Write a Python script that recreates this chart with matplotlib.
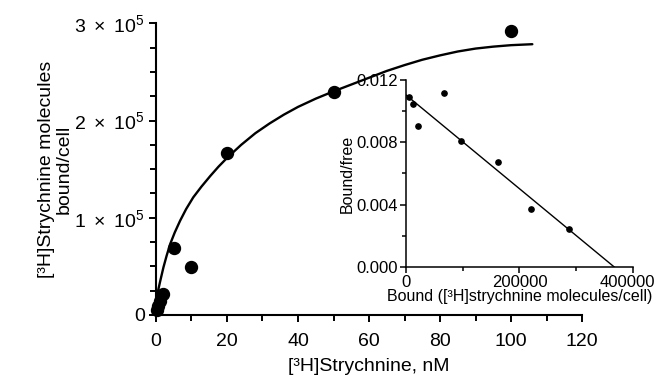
import numpy as np
import matplotlib
matplotlib.use('Agg')
import matplotlib.pyplot as plt
from matplotlib.ticker import MultipleLocator

plt.rcParams['font.family'] = ['Liberation Sans', 'DejaVu Sans']
plt.rcParams['mathtext.fontset'] = 'custom'
plt.rcParams['mathtext.rm'] = 'Liberation Sans'
plt.rcParams['mathtext.it'] = 'Liberation Sans:italic'

# saturation binding data (main panel)
conc_nM = [0.25, 0.5, 1, 2, 5, 10, 20, 50, 100]
bound = [5e3, 9e3, 1.4e4, 2.2e4, 6.9e4, 4.9e4, 1.67e5, 2.29e5, 2.92e5]

# fitted curve, values
fit_x = [0, 0.15, 0.65, 1.2, 2.1, 3.0, 4.0, 5.3, 6.8, 8.5, 10.5, 12.8,
         15.3, 17.6, 20, 24, 28, 32, 36, 40, 45, 50, 55, 60, 65, 70, 75,
         80, 85, 90, 95, 100, 106]
fit_y = [0, 1.2e4, 2.6e4, 3.5e4, 4.9e4, 6.1e4, 7.3e4, 8.5e4, 9.7e4,
         1.09e5, 1.21e5, 1.32e5, 1.43e5, 1.525e5, 1.615e5, 1.75e5, 1.87e5,
         1.97e5, 2.06e5, 2.14e5, 2.225e5, 2.30e5, 2.37e5, 2.44e5, 2.51e5,
         2.57e5, 2.625e5, 2.67e5, 2.71e5, 2.74e5, 2.76e5, 2.775e5, 2.785e5]

ytick_vals = [0, 1e5, 2e5, 3e5]
ytick_labels = ['0', r'$1\ \times\ 10^5$', r'$2\ \times\ 10^5$',
                r'$3\ \times\ 10^5$']
xtick_vals = [0, 20, 40, 60, 80, 100, 120]

# scatchard inset
sc_bound = [5300, 12900, 21800, 67600, 97000, 163000, 220000, 287000]
sc_ratio = [0.01093, 0.01044, 0.00904, 0.01114, 0.00808, 0.00675,
            0.00375, 0.00242]
sc_line_x = [0, 367000]
sc_line_y = [0.01104, 0.0]
in_yticks = [0, 0.004, 0.008, 0.012]
in_ylabels = ['0.000', '0.004', '0.008', '0.012']
in_xticks = [0, 200000, 400000]
in_xlabels = ['0', '200000', '400000']

fig = plt.figure(figsize=(6.59, 3.77), dpi=100)

# main axes
ax = fig.add_axes([0.2367, 0.1645, 0.6465, 0.7737])
ax.plot(fit_x, fit_y, color='black', lw=1.7, clip_on=False,
        solid_joinstyle='round', solid_capstyle='round')
ax.plot(conc_nM, bound, 'o', color='black', ms=8.6, clip_on=False)
ax.set_xlim(0, 120)
ax.set_ylim(0, 3e5)
for s in ['top', 'right']:
    ax.spines[s].set_visible(False)
for s in ['left', 'bottom']:
    ax.spines[s].set_linewidth(1.5)
ax.set_yticks(ytick_vals)
ax.set_yticklabels(ytick_labels)
ax.yaxis.set_minor_locator(MultipleLocator(2.5e4))
ax.set_xticks(xtick_vals)
ax.xaxis.set_minor_locator(MultipleLocator(10))
ax.tick_params(which='both', direction='out', width=1.4, labelsize=14,
               color='black')
ax.tick_params(which='major', length=5)
ax.tick_params(which='minor', length=4)
ax.tick_params(axis='y', pad=3)
ax.tick_params(axis='x', pad=8)
ax.set_xlabel('[³H]Strychnine, nM', fontsize=14, labelpad=6)
ax.set_ylabel('[³H]Strychnine molecules\nbound/cell', fontsize=14,
              labelpad=1, linespacing=1.1)

# inset
ins = fig.add_axes([0.616, 0.2918, 0.3445, 0.496])
ins.patch.set_visible(False)
ins.plot(sc_line_x, sc_line_y, color='black', lw=1.0)
ins.plot(sc_bound, sc_ratio, 'o', color='black', ms=3.8, clip_on=False)
ins.set_xlim(0, 400000)
ins.set_ylim(0, 0.012)
for s in ['top', 'right']:
    ins.spines[s].set_visible(False)
for s in ['left', 'bottom']:
    ins.spines[s].set_linewidth(1.1)
ins.set_yticks(in_yticks)
ins.set_yticklabels(in_ylabels)
ins.set_xticks(in_xticks)
# last label is drawn by hand, shifted left of the figure edge as in the original
ins.set_xticklabels(in_xlabels[:-1] + [''])
ins.annotate(in_xlabels[-1], xy=(in_xticks[-1], 0), xycoords='data',
             xytext=(16, -6), textcoords='offset points',
             ha='right', va='top', fontsize=12, annotation_clip=False)
ins.yaxis.set_minor_locator(MultipleLocator(0.002))
ins.xaxis.set_minor_locator(MultipleLocator(100000))
ins.tick_params(which='both', direction='out', width=1.1, labelsize=12,
                pad=2)
ins.tick_params(which='major', length=4)
ins.tick_params(which='minor', length=3)
ins.set_xlabel('Bound ([³H]strychnine molecules/cell)', fontsize=11.5,
               labelpad=-1)
ins.set_ylabel('Bound/free', fontsize=11.5, labelpad=1)

fig.savefig('out.png', dpi=100)
